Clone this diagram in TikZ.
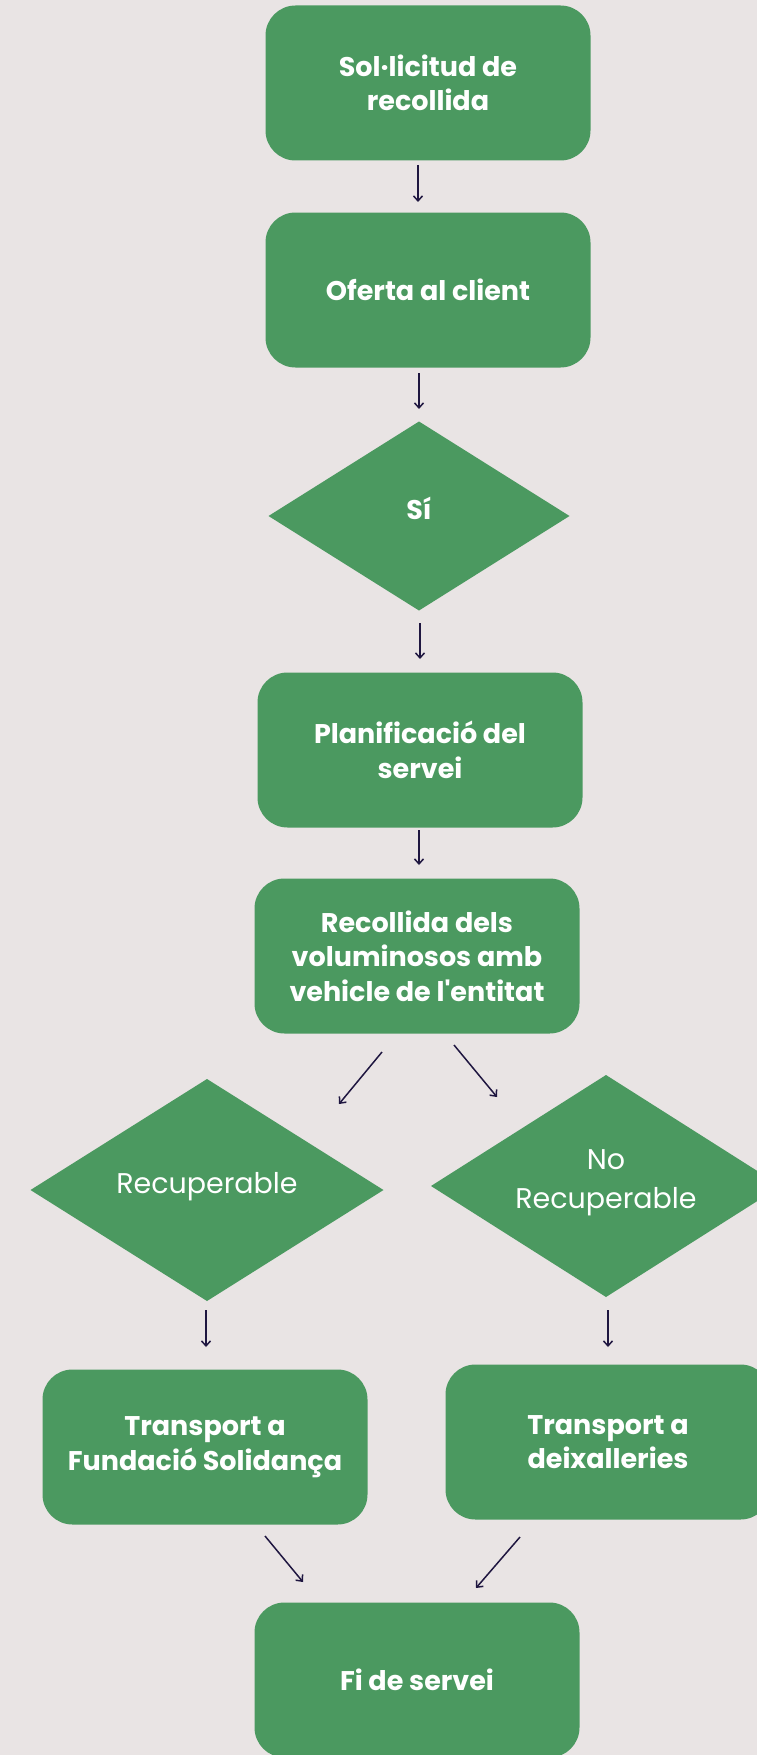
\documentclass[tikz,border=0pt]{standalone}
\usepackage{fontspec}
\setmainfont{Poppins}
\usetikzlibrary{shapes.geometric,arrows.meta}
\definecolor{bg}{RGB}{233,228,228}
\definecolor{grn}{RGB}{75,153,96}
\definecolor{arr}{RGB}{31,22,64}
\begin{document}
\begin{tikzpicture}[x=1pt,y=-1pt,
  box/.style={fill=grn, rounded corners=30pt, minimum width=325pt, minimum height=155pt,
    text=white, font=\bfseries\fontsize{27}{34.5}\selectfont, align=center, inner sep=0pt, outer sep=0pt},
  dia/.style={diamond, fill=grn, inner sep=0pt, outer sep=0pt},
  dialabel/.style={text=white, font=\fontsize{28.5}{39}\selectfont, align=center, inner sep=0pt},
  conn/.style={draw=arr, line width=1.5pt, -{Straight Barb[length=5pt,width=9pt]}}]
\clip (0,0) rectangle (757,1755);
\fill[bg] (0,0) rectangle (757,1755);
% boxes
\node[box] (b1) at (428,83) {Sol·licitud de\\recollida};
\node[box] (b2) at (428,290) {Oferta al client};
\node[dia, minimum width=301pt, minimum height=189pt,
  label={[dialabel, font=\bfseries\fontsize{27}{34.5}\selectfont, yshift=8pt]center:Sí}] (d1) at (419,516) {};
\node[box] (b3) at (420,750) {Planificació del\\servei};
\node[box] (b4) at (417,956) {Recollida dels\\voluminosos amb\\vehicle de l\textquotesingle entitat};
\node[dia, minimum width=353pt, minimum height=222pt,
  label={[dialabel, yshift=3pt]center:Recuperable}] (d2) at (207,1190) {};
\node[dia, minimum width=350pt, minimum height=222pt,
  label={[dialabel, yshift=3pt]center:{No\\Recuperable}}] (d3) at (606,1186) {};
\node[box] (b5) at (205,1447) {Transport a\\Fundació Solidança};
\node[box] (b6) at (608,1442) {Transport a\\deixalleries};
\node[box] (b7) at (417,1680) {Fi de servei};
% arrow end points
\coordinate (a1s) at (418,165);  \coordinate (a1e) at (418,202);
\coordinate (a2s) at (419,373);  \coordinate (a2e) at (419,409);
\coordinate (a3s) at (420,623);  \coordinate (a3e) at (420,659);
\coordinate (a4s) at (419,830);  \coordinate (a4e) at (419,865);
\coordinate (a5s) at (382,1052); \coordinate (a5e) at (339,1104);
\coordinate (a6s) at (454,1045); \coordinate (a6e) at (497,1097);
\coordinate (a7s) at (206,1310); \coordinate (a7e) at (206,1347);
\coordinate (a8s) at (608,1310); \coordinate (a8e) at (608,1347);
\coordinate (a9s) at (265,1536); \coordinate (a9e) at (303,1582);
\coordinate (a10s) at (520,1537); \coordinate (a10e) at (476,1588);
\draw[conn] (a1s) -- (a1e);
\draw[conn] (a2s) -- (a2e);
\draw[conn] (a3s) -- (a3e);
\draw[conn] (a4s) -- (a4e);
\draw[conn] (a5s) -- (a5e);
\draw[conn] (a6s) -- (a6e);
\draw[conn] (a7s) -- (a7e);
\draw[conn] (a8s) -- (a8e);
\draw[conn] (a9s) -- (a9e);
\draw[conn] (a10s) -- (a10e);
\end{tikzpicture}
\end{document}
